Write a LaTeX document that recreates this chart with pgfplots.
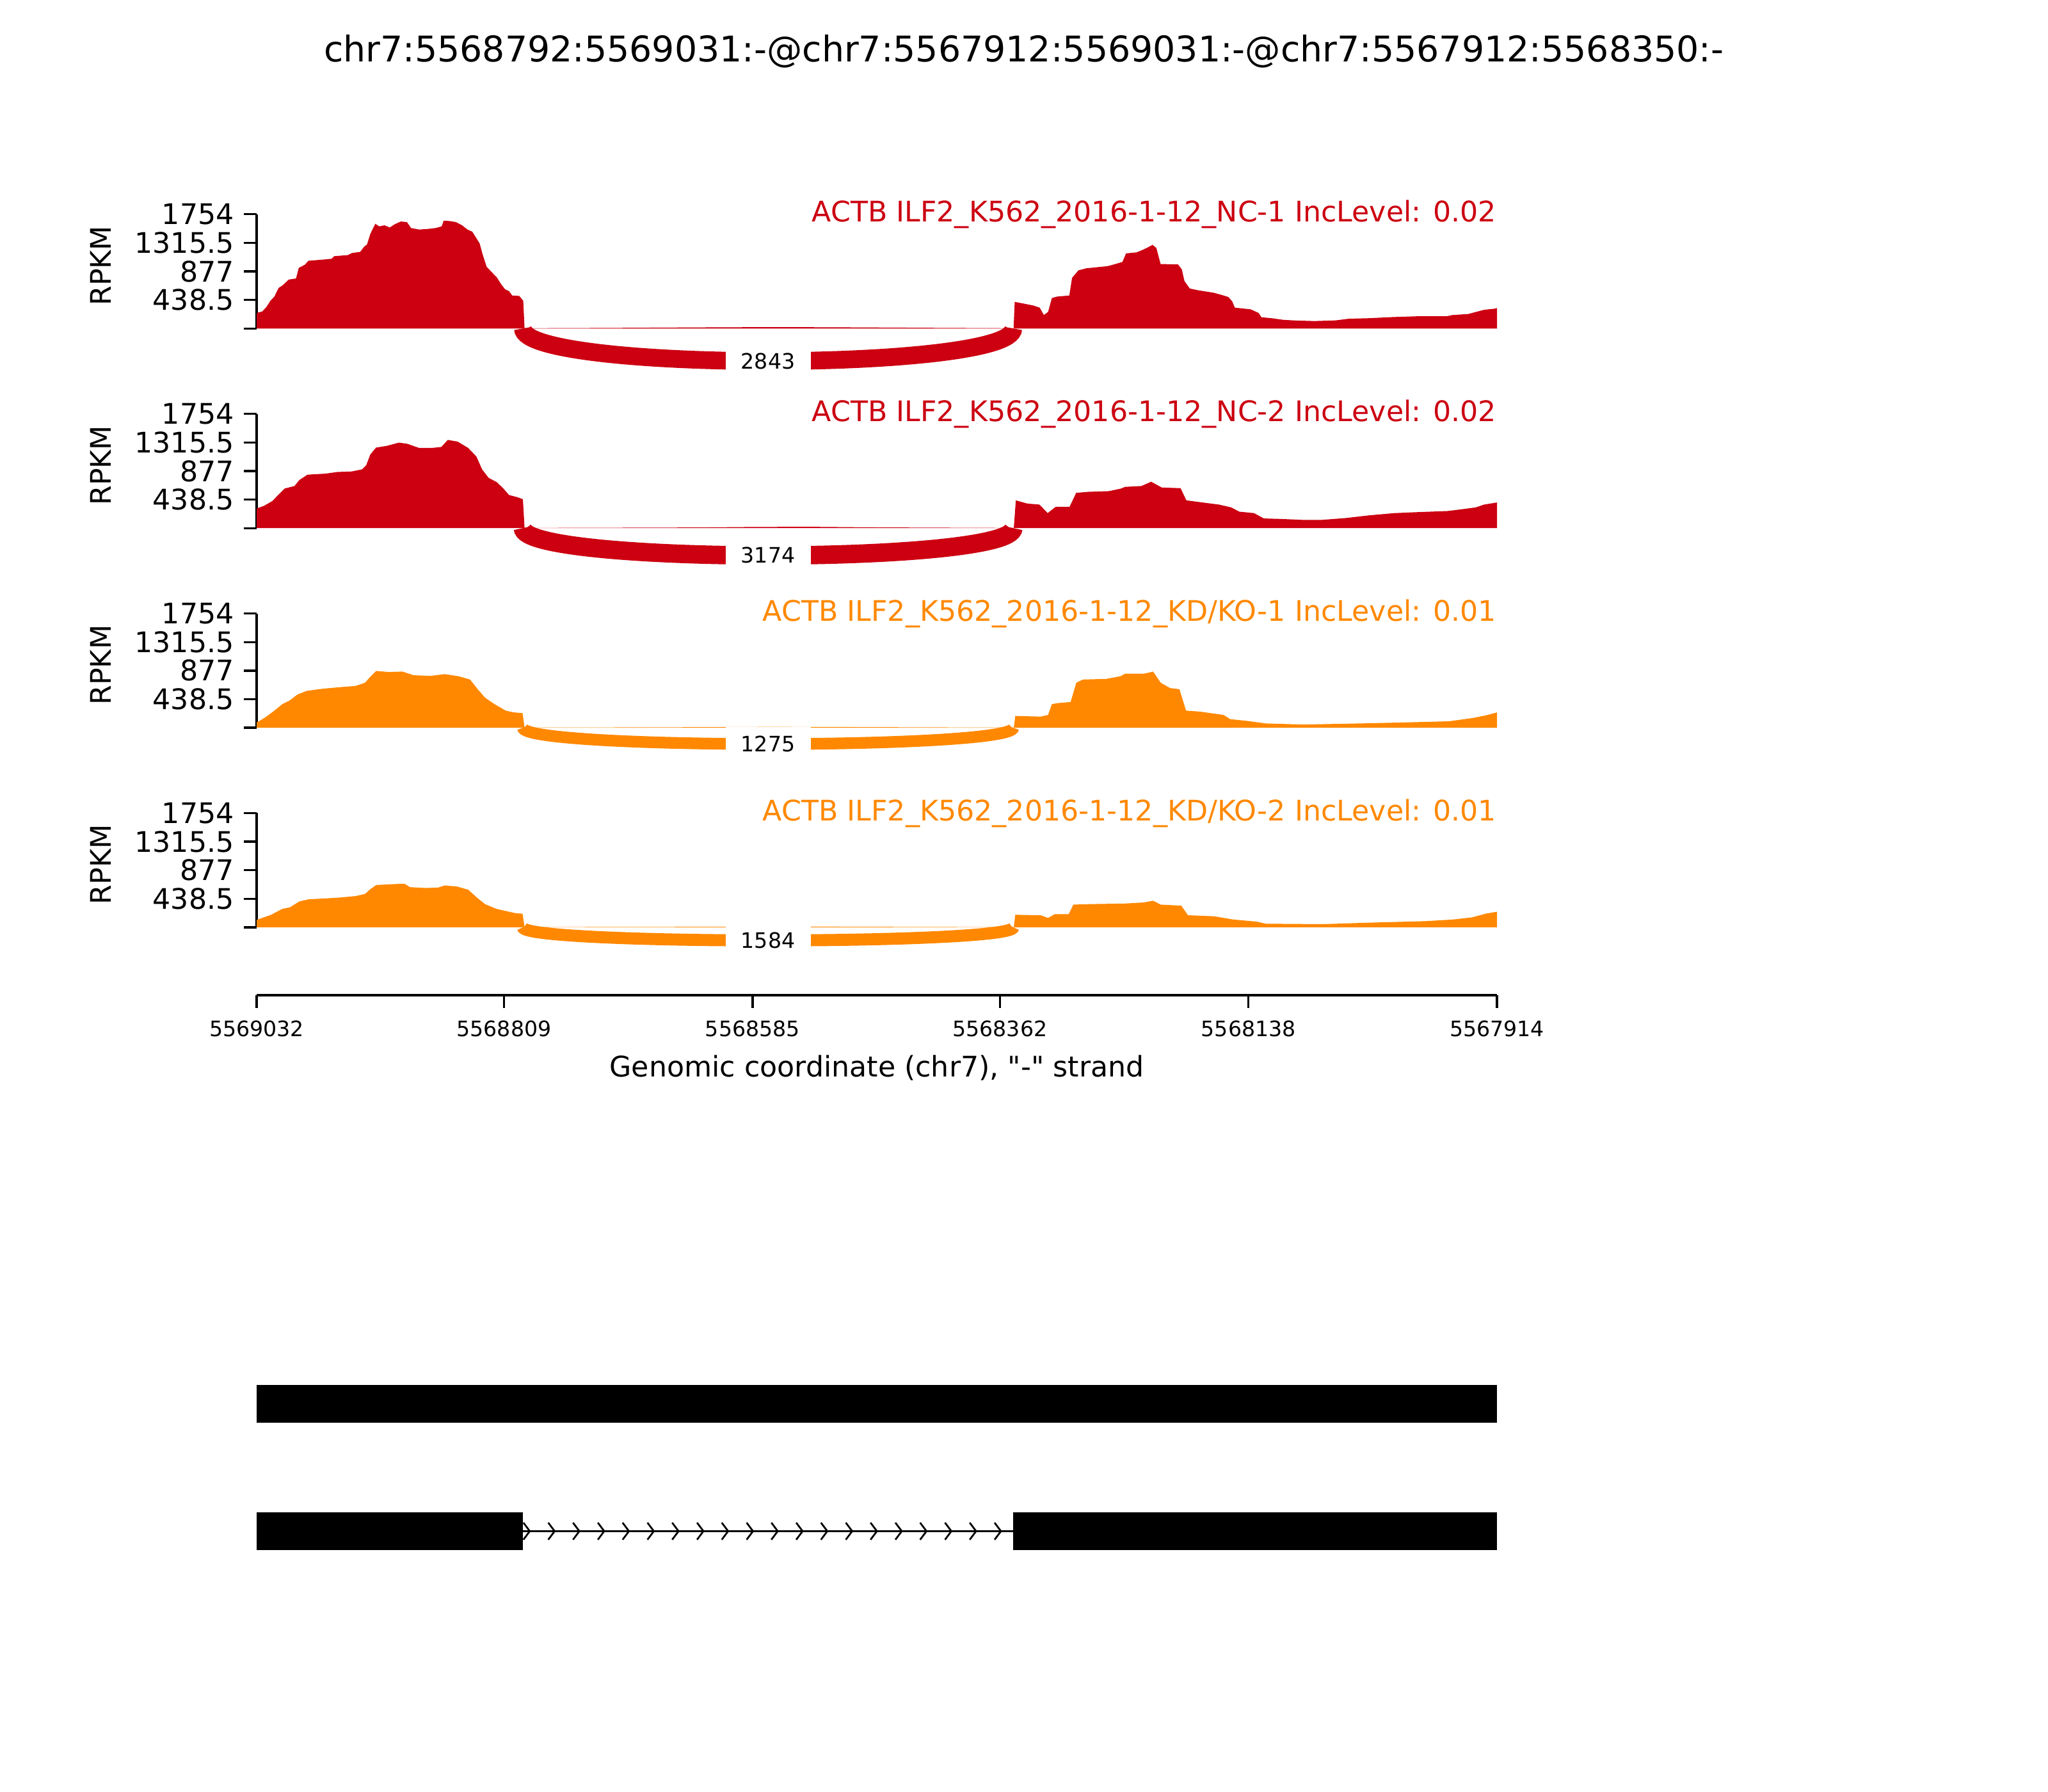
\documentclass[border=0pt]{standalone}
\usepackage{fontspec}
\setmainfont{DejaVu Sans}
\newfontfamily\qfont{DejaVu Sans}[Ligatures=TeXOff]
\usepackage{pgfplots}
\pgfplotsset{compat=1.18}

\definecolor{ncred}{HTML}{CC0011}
\definecolor{kdorange}{HTML}{FF8800}
\newcommand{\fsize}[1]{\fontsize{#1}{#1}\selectfont}

% intron direction chevron
\pgfdeclareplotmark{chev}{%
  \pgfpathmoveto{\pgfpoint{-1.8pt}{2.4pt}}%
  \pgfpathlineto{\pgfpointorigin}%
  \pgfpathlineto{\pgfpoint{-1.8pt}{-2.4pt}}%
  \pgfusepathqstroke}

\pgfplotsset{
  sashpanel/.style={
    anchor=south west, scale only axis,
    width=350.15pt, height=32.25pt,
    xmin=0, xmax=1118, ymin=0, ymax=1754,
    clip=false,
    axis x line=none, axis y line=left,
    y axis line style={-, line width=0.6pt},
    xtick=\empty,
    ytick={0,438.5,877,1315.5,1754},
    yticklabels={,438.5,877,1315.5,1754},
    tick align=outside, major tick length=3.6pt,
    tick style={line width=0.6pt, black},
    yticklabel style={font=\fsize{8}, anchor=east, inner sep=0pt, xshift=-2.6pt},
  },
}
\tikzset{
  rpkm/.style={rotate=90, font=\fsize{8}, inner sep=0pt},
  jlabel/.style={fill=white, font=\fsize{6}, inner xsep=4.4pt, inner ysep=2.5pt},
}

\begin{document}
\begin{tikzpicture}
\path[use as bounding box] (0,0) rectangle (578.16pt,505.89pt);

\node[anchor=base, font=\fsize{10}] at (289.08pt,488.5pt)
  {chr7:5568792:5569031:-@chr7:5567912:5569031:-@chr7:5567912:5568350:-};

% ---- NC-1
\begin{axis}[sashpanel, at={(72.45pt,413.15pt)}]
\addplot[fill=ncred, draw=none] coordinates {
(0,230) (1.3,245) (5,261) (8.7,327) (12.4,425) (16,490) (19.7,620) (23.4,663)
(29,751) (35.5,768) (38,931) (43.6,980) (46.6,1039) (62,1061) (67.5,1071)
(70,1110) (82.2,1127) (86,1159) (93.3,1176) (97,1257) (99.5,1290) (102.5,1453)
(107,1607) (110.5,1568) (115.3,1584) (120,1551) (124.5,1600) (130,1643)
(135.5,1633) (139.2,1542) (146.6,1519) (154,1528) (161.3,1542) (166.8,1568)
(168.6,1656) (174.2,1649) (179.7,1633) (185.2,1584) (190,1519) (194.4,1486)
(198,1388) (201,1306) (203.6,1143) (207.3,947) (212.8,849) (216.5,784)
(220.1,686) (223.8,604) (227.5,572) (230.4,506) (236.7,500) (240.3,425)
(241.5,4) (280,6) (320,9) (360,13) (400,17) (440,20) (470,22) (500,20)
(540,17) (580,13) (620,9) (660,6) (682.3,4)
(683.3,408) (690.5,385) (700,353) (705.8,320) (709.6,206) (713.4,255)
(716.8,467) (721.5,490) (732.5,506) (735,777) (740.7,892) (747.8,924)
(767,957) (774.1,990) (780.4,1022) (783.7,1153) (793.2,1169) (798,1202)
(802.8,1241) (807.6,1284) (811,1235) (814.8,990) (830.5,983) (833.9,908)
(836.3,728) (841.1,614) (848.2,588) (862.6,549) (869.7,516) (875.9,483)
(879.3,418) (881.7,320) (896,294) (903.2,238) (905.6,173) (915.2,157)
(924.7,134) (934.3,124) (953.4,114) (972.5,124) (984.5,150) (1001.2,157)
(1025.1,176) (1049,189) (1073,189) (1077.7,206) (1092,222) (1106.4,287)
(1115.9,304) (1118,313)
} \closedcycle;
\draw[ncred, line width=5pt] (axis cs:240,0) .. controls (axis cs:240,-667)
  and (axis cs:682,-667) .. (axis cs:682,0);
\node[jlabel] at (axis cs:461,-500) {2843};
\node[anchor=east, inner sep=0pt, text=ncred, font=\fsize{8}] at (rel axis cs:1,1)
  {ACTB ILF2\_K562\_2016-1-12\_NC-1 IncLevel: 0.02};
\node[rpkm] at ([xshift=-44pt,yshift=17.7pt]rel axis cs:0,0) {RPKM};
\end{axis}

% ---- NC-2
\begin{axis}[sashpanel, at={(72.45pt,356.80pt)}]
\addplot[fill=ncred, draw=none] coordinates {
(0,300) (1.7,311) (6.9,344) (14.2,416) (19.4,508) (25.2,607) (34.1,646)
(38.5,738) (45.8,820) (62,836) (73,862) (85.5,869) (95.1,902) (98.8,967)
(102.5,1131) (107.6,1236) (117.2,1262) (128.2,1312) (135.6,1295) (146.6,1230)
(157.6,1230) (166.5,1246) (172.3,1354) (181.2,1328) (190.7,1230) (198.1,1098)
(203.2,902) (209.1,771) (216.5,705) (222.4,607) (227.5,508) (234.9,475)
(240,443) (241.5,3) (300,5) (400,10) (450,18) (500,20) (550,12) (600,8)
(682.5,3)
(684.3,426) (694.6,377) (705.6,361) (713,230) (720.3,328) (732.8,328)
(738.7,541) (749.7,557) (768.1,567) (779.1,607) (782.8,633) (797.5,646)
(806.3,712) (815.9,623) (832.8,613) (838,426) (852.7,393) (867.4,361)
(878.4,318) (885.8,252) (899,230) (907.9,148) (922.6,141) (944.6,125)
(959.3,125) (981.4,154) (1003.5,197) (1025.5,230) (1047.6,246) (1073.3,262)
(1084.4,285) (1099,318) (1106.4,361) (1118,393)
} \closedcycle;
\draw[ncred, line width=5.2pt] (axis cs:240,0) .. controls (axis cs:240,-560)
  and (axis cs:682,-560) .. (axis cs:682,0);
\node[jlabel] at (axis cs:461,-420) {3174};
\node[anchor=east, inner sep=0pt, text=ncred, font=\fsize{8}] at (rel axis cs:1,1)
  {ACTB ILF2\_K562\_2016-1-12\_NC-2 IncLevel: 0.02};
\node[rpkm] at ([xshift=-44pt,yshift=17.7pt]rel axis cs:0,0) {RPKM};
\end{axis}

% ---- KD/KO-1
\begin{axis}[sashpanel, at={(72.45pt,300.44pt)}]
\addplot[fill=kdorange, draw=none] coordinates {
(0,85) (2.1,99) (8.8,171) (14.8,247) (23.2,362) (30,421) (36.8,510) (45.2,566)
(59.6,599) (76.5,625) (89.2,642) (97.7,691) (101.9,773) (107.8,872)
(118.8,856) (131.5,862) (141.6,806) (156.9,796) (169.5,823) (182.2,790)
(192.4,740) (199.2,592) (205.9,461) (214.4,362) (224.5,263) (231.3,237)
(239.7,224) (241.5,3) (300,5) (400,9) (460,14) (520,12) (600,7) (682.5,3)
(683.8,181) (706.6,171) (713.4,197) (716.8,362) (721.9,378) (733.7,395)
(738.8,691) (744.8,740) (765.9,750) (778.5,790) (782.8,829) (799.6,829)
(808.1,862) (814.9,691) (823.3,609) (831.8,592) (837.7,263) (850.4,247)
(871.5,197) (877.5,132) (892.7,105) (909.6,66) (943.5,49) (994.2,66)
(1036.5,82) (1074.6,99) (1095.7,148) (1108.4,191) (1118,235)
} \closedcycle;
\draw[kdorange, line width=3.3pt] (axis cs:240,0) .. controls (axis cs:240,-333)
  and (axis cs:682,-333) .. (axis cs:682,0);
\node[jlabel] at (axis cs:461,-250) {1275};
\node[anchor=east, inner sep=0pt, text=kdorange, font=\fsize{8}] at (rel axis cs:1,1)
  {ACTB ILF2\_K562\_2016-1-12\_KD/KO-1 IncLevel: 0.01};
\node[rpkm] at ([xshift=-44pt,yshift=17.7pt]rel axis cs:0,0) {RPKM};
\end{axis}

% ---- KD/KO-2
\begin{axis}[sashpanel, at={(72.45pt,244.09pt)}]
\addplot[fill=kdorange, draw=none] coordinates {
(0,115) (2.1,127) (13.1,193) (23.2,284) (30,307) (38.5,398) (47,431)
(72.3,454) (89.2,480) (97.7,513) (101.9,578) (107.8,650) (118.8,660)
(133.2,670) (138.3,617) (152.6,604) (163.6,611) (169.5,643) (180.5,627)
(190.7,578) (199.2,447) (205.9,356) (216.1,284) (224.5,251) (233,219)
(239.7,209) (241.5,3) (300,5) (400,8) (460,12) (520,10) (600,6) (682.5,3)
(683.8,193) (706.6,186) (713.4,144) (719.3,202) (732,202) (736.2,349)
(748.9,356) (782.8,366) (799.6,382) (808.1,408) (814.9,349) (833.5,333)
(839.4,186) (863.1,170) (880,121) (901.2,88) (909.6,56) (960.4,49)
(1002.7,72) (1053.4,95) (1078.8,121) (1095.7,154) (1108.4,212) (1118,240)
} \closedcycle;
\draw[kdorange, line width=3.4pt] (axis cs:240,0) .. controls (axis cs:240,-267)
  and (axis cs:682,-267) .. (axis cs:682,0);
\node[jlabel] at (axis cs:461,-200) {1584};
\node[anchor=east, inner sep=0pt, text=kdorange, font=\fsize{8}] at (rel axis cs:1,1)
  {ACTB ILF2\_K562\_2016-1-12\_KD/KO-2 IncLevel: 0.01};
\node[rpkm] at ([xshift=-44pt,yshift=17.7pt]rel axis cs:0,0) {RPKM};
\end{axis}

% ---- genomic axis
\begin{axis}[anchor=south west, at={(72.45pt,224.94pt)}, scale only axis,
  width=350.15pt, height=10pt, xmin=0, xmax=1118, ymin=0, ymax=1,
  axis x line=bottom, axis y line=none,
  x axis line style={-, line width=0.6pt},
  xtick={0,223,447,670,894,1118},
  xticklabels={5569032,5568809,5568585,5568362,5568138,5567914},
  tick align=outside, major tick length=3.6pt,
  tick style={line width=0.6pt, black},
  xticklabel style={font=\fsize{6}, anchor=base, inner sep=0pt, yshift=-8pt},
  clip=false]
\addplot[draw=none] coordinates {(0,0) (1118,0)};
\node[anchor=base, font=\fsize{8}\qfont] at ([yshift=-23pt]rel axis cs:0.5,0)
  {Genomic coordinate (chr7), "-" strand};
\end{axis}

% ---- gene models
\begin{axis}[anchor=south west, at={(72.45pt,63.24pt)}, scale only axis,
  width=350.15pt, height=63.24pt, xmin=0, xmax=1118, ymin=-2450, ymax=-2100,
  axis lines=none, clip=false]
\addplot[fill=black, draw=none] coordinates {(0,-2164) (1118,-2164) (1118,-2223.3) (0,-2223.3)} -- cycle;
\addplot[black, line width=0.7pt] coordinates {(240,-2392.5) (682,-2392.5)};
\addplot[fill=black, draw=none] coordinates {(0,-2362.7) (240,-2362.7) (240,-2422.3) (0,-2422.3)} -- cycle;
\addplot[fill=black, draw=none] coordinates {(682,-2362.7) (1118,-2362.7) (1118,-2422.3) (682,-2422.3)} -- cycle;
\addplot[only marks, mark=chev, mark options={line width=0.5pt, black}] coordinates {
(246.2,-2392.5) (268.6,-2392.5) (290.9,-2392.5) (313.3,-2392.5) (335.6,-2392.5)
(358.0,-2392.5) (380.3,-2392.5) (402.7,-2392.5) (425.0,-2392.5) (447.4,-2392.5)
(469.7,-2392.5) (492.1,-2392.5) (514.4,-2392.5) (536.8,-2392.5) (559.1,-2392.5)
(581.5,-2392.5) (603.8,-2392.5) (626.2,-2392.5) (648.5,-2392.5) (670.9,-2392.5)
};
\end{axis}
\end{tikzpicture}
\end{document}
